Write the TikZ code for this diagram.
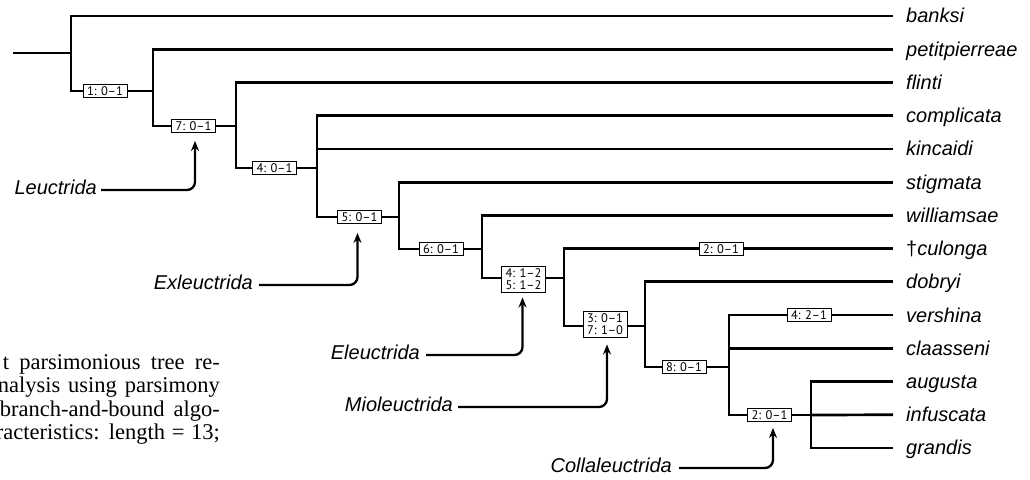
\documentclass[tikz,border=0pt]{standalone}
\usepackage{fontspec}
\setmainfont{Liberation Serif}
\newfontfamily\leaffont{Liberation Sans}
\newfontfamily\boxfont{PT Sans}
\usetikzlibrary{arrows.meta,calc}
\begin{document}
\begin{tikzpicture}[x=1pt,y=-1pt,
  br/.style={line width=2.7pt,line join=miter},
  lab/.style={draw,line width=0.9pt,fill=white,inner sep=0pt,
    minimum width=44pt,minimum height=13pt,
    font=\boxfont\fontsize{12.5}{12.5}\selectfont},
  labtwo/.style={lab,minimum height=26pt,align=center},
  leaf/.style={anchor=base west,inner sep=0pt,
    font=\leaffont\itshape\fontsize{20}{20}\selectfont},
  clade/.style={anchor=base east,inner sep=0pt,
    font=\leaffont\itshape\fontsize{20}{20}\selectfont},
  carrow/.style={line width=2.3pt,rounded corners=8pt,
    -{Stealth[length=10pt,width=8pt]}},
  capt/.style={anchor=base east,inner sep=0pt,
    font=\fontsize{22.5}{24}\selectfont}]
\useasboundingbox[fill=white] (0,0) rectangle (1030,479);

% leaf ends and labels
\foreach \nm/\txt [count=\k from 0] in {banksi/banksi,petit/petitpierreae,flinti/flinti,compl/complicata,kinc/kincaidi,stig/stigmata,will/williamsae,cul/{\upshape\textdagger}culonga,dob/dobryi,vers/vershina,claa/claasseni,aug/augusta,inf/infuscata,gra/grandis}{
  \coordinate (e-\nm) at (893,{16+33.23*\k});
  \node[leaf] (\nm) at (906,{23+33.23*\k}) {\txt};
}

% internal nodes (junction on incoming branch)
\coordinate (root) at (13,53);
\coordinate (n1) at (71,53);
\coordinate (n2) at (153,91);
\coordinate (n3) at (236,126);
\coordinate (n4) at (317,168);
\coordinate (n5) at (399,217);
\coordinate (n6) at (482,249);
\coordinate (n7) at (564,278);
\coordinate (n8) at (645,326);
\coordinate (n9) at (729,367);
\coordinate (n10) at (811,415);

\draw[br] (root) -- (n1);
\draw[br] (n1) |- (e-banksi);  \draw[br] (n1) |- (n2);
\draw[br] (n2) |- (e-petit);   \draw[br] (n2) |- (n3);
\draw[br] (n3) |- (e-flinti);  \draw[br] (n3) |- (n4);
\draw[br] (n4) |- (e-compl);   \draw[br] (n4) |- (e-kinc);  \draw[br] (n4) |- (n5);
\draw[br] (n5) |- (e-stig);    \draw[br] (n5) |- (n6);
\draw[br] (n6) |- (e-will);    \draw[br] (n6) |- (n7);
\draw[br] (n7) |- (e-cul);     \draw[br] (n7) |- (n8);
\draw[br] (n8) |- (e-dob);     \draw[br] (n8) |- (n9);
\draw[br] (n9) |- (e-vers);    \draw[br] (n9) |- (e-claa);  \draw[br] (n9) |- (n10);
\draw[br] (n10) |- (e-aug);    \draw[br] (n10) -- (e-inf);  \draw[br] (n10) |- (e-gra);

% character-state boxes
\node[lab] (b1) at (105,91) {1: 0–1};
\node[lab] (b2) at (193.5,126) {7: 0–1};
\node[lab] (b3) at (274.5,168) {4: 0–1};
\node[lab] (b4) at (359.5,217) {5: 0–1};
\node[lab] (b5) at (441,249) {6: 0–1};
\node[labtwo] (b6) at (523.5,279) {4: 1–2\\5: 1–2};
\node[labtwo] (b7) at (605,324) {3: 0–1\\7: 1–0};
\node[lab] (b8) at (684,367) {8: 0–1};
\node[lab] (b9) at (769.5,415) {2: 0–1};
\node[lab] (bcul) at (721,249) {2: 0–1};
\node[lab] (bver) at (809,315) {4: 2–1};

% clade labels and arrows
\node[clade] (leuc) at (97,194) {Leuctrida};
\node[clade] (exle) at (253,289) {Exleuctrida};
\node[clade] (eleu) at (420,359) {Eleuctrida};
\node[clade] (miol) at (453,411) {Mioleuctrida};
\node[clade] (coll) at (672,472) {Collaleuctrida};

\draw[carrow] ($(leuc.base east)+(4,-4)$) -| ([xshift=1.5pt,yshift=-8pt]b2.south);
\draw[carrow] ($(exle.base east)+(6,-4)$) -| ([xshift=-2pt,yshift=-9pt]b4.south);
\draw[carrow] ($(eleu.base east)+(6,-4)$) -| ([xshift=-1pt,yshift=-5pt]b6.south);
\draw[carrow] ($(miol.base east)+(5,-4)$) -| ([xshift=2pt,yshift=-7pt]b7.south);
\draw[carrow] ($(coll.base east)+(7,-4)$) -| ([xshift=3.5pt,yshift=-6pt]b9.south);

% caption fragment
\node[capt] (c1) at (220,369) {\makebox[217pt][s]{t parsimonious tree re-}};
\node[capt] (c2) at (220,392.5) {\makebox[222pt][s]{nalysis using parsimony}};
\node[capt] (c3) at (220,416) {\makebox[220pt][s]{branch-and-bound algo-}};
\node[capt] (c4) at (220,439.5) {\makebox[224pt][s]{racteristics: length = 13;}};
\end{tikzpicture}
\end{document}
